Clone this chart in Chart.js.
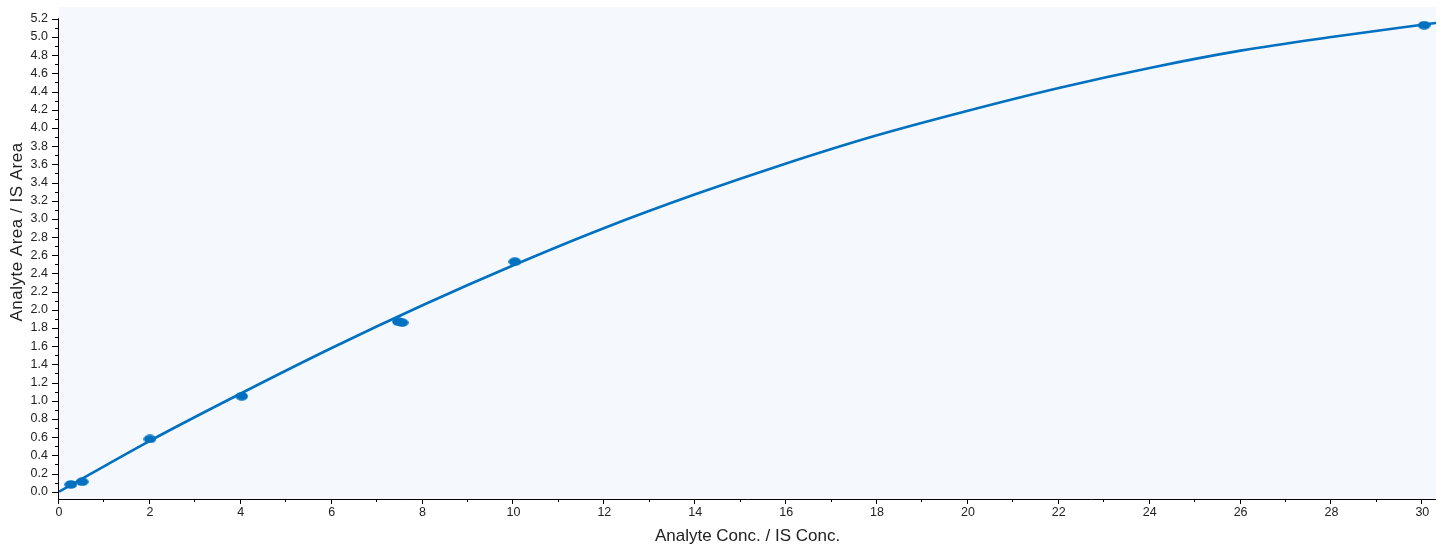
<!DOCTYPE html>
<html>
<head>
<meta charset="utf-8">
<script src="https://cdn.jsdelivr.net/npm/chart.js@4.4.1/dist/chart.umd.min.js"></script>
<style>
  html, body { margin: 0; padding: 0; background: #ffffff; }
  #wrap { width: 1443px; height: 547px; position: relative; }
</style>
</head>
<body>
<div id="wrap"><canvas id="c" width="1443" height="547"></canvas></div>
<script>
// Measured calibration points
const pointX = [0.26, 0.51, 2.0, 4.02, 7.47, 7.55, 10.03, 30.04];
const pointY = [0.08, 0.11, 0.58, 1.05, 1.87, 1.86, 2.53, 5.13];

// Fitted curve
const curveX = [0, 2, 4, 6, 8, 10, 12, 14, 16, 18, 20, 22, 24, 26, 28, 30, 30.3];
const curveY = [0.00, 0.56, 1.08, 1.58, 2.05, 2.49, 2.90, 3.27, 3.61, 3.92, 4.19, 4.44, 4.66, 4.85, 5.00, 5.135, 5.155];

// Tick labels
const xTicks = [0, 2, 4, 6, 8, 10, 12, 14, 16, 18, 20, 22, 24, 26, 28, 30];
const yTicks = [0.0, 0.2, 0.4, 0.6, 0.8, 1.0, 1.2, 1.4, 1.6, 1.8, 2.0, 2.2, 2.4, 2.6, 2.8, 3.0,
                3.2, 3.4, 3.6, 3.8, 4.0, 4.2, 4.4, 4.6, 4.8, 5.0, 5.2];
const xMinor = [1, 3, 5, 7, 9, 11, 13, 15, 17, 19, 21, 23, 25, 27, 29];
const yMinor = [0.1, 0.3, 0.5, 0.7, 0.9, 1.1, 1.3, 1.5, 1.7, 1.9, 2.1, 2.3, 2.5, 2.7, 2.9,
                3.1, 3.3, 3.5, 3.7, 3.9, 4.1, 4.3, 4.5, 4.7, 4.9, 5.1];

const xTitle = 'Analyte Conc. / IS Conc.';
const yTitle = 'Analyte Area / IS Area';

const BLUE = '#0070C0';
const FONT = '"Liberation Sans", Arial, Helvetica, sans-serif';

// ellipse point style
const dot = document.createElement('canvas');
dot.width = 13; dot.height = 9;
(function(){
  const g = dot.getContext('2d');
  g.fillStyle = BLUE;
  g.beginPath();
  g.ellipse(6.5, 4.5, 6.3, 4.3, 0, 0, Math.PI * 2);
  g.fill();
})();

const axesPlugin = {
  id: 'axesPlugin',
  beforeDatasetsDraw(chart) {
    const { ctx, chartArea: a } = chart;
    ctx.save();
    ctx.fillStyle = '#F5F9FD';
    ctx.fillRect(a.left, a.top, a.right - a.left, a.bottom - a.top);
    ctx.restore();
  },
  afterDraw(chart) {
    const { ctx, chartArea: a, scales: { x, y } } = chart;
    ctx.save();
    ctx.strokeStyle = '#000';
    ctx.lineWidth = 1;
    ctx.beginPath();
    const yTop = y.getPixelForValue(yTicks[yTicks.length - 1]);
    ctx.moveTo(a.left - 0.5, a.bottom + 0.5);
    ctx.lineTo(a.left - 0.5, yTop - 0.5);
    ctx.moveTo(a.left - 0.5, a.bottom + 0.5);
    ctx.lineTo(a.right, a.bottom + 0.5);
    yTicks.forEach(v => {
      const p = Math.round(y.getPixelForValue(v)) + 0.5;
      ctx.moveTo(a.left - 7, p); ctx.lineTo(a.left, p);
    });
    yMinor.forEach(v => {
      const p = Math.round(y.getPixelForValue(v)) + 0.5;
      ctx.moveTo(a.left - 4, p); ctx.lineTo(a.left, p);
    });
    xTicks.forEach(v => {
      const p = Math.round(x.getPixelForValue(v)) - 0.5;
      ctx.moveTo(p, a.bottom); ctx.lineTo(p, a.bottom + 5);
    });
    xMinor.forEach(v => {
      const p = Math.round(x.getPixelForValue(v)) - 0.5;
      ctx.moveTo(p, a.bottom); ctx.lineTo(p, a.bottom + 3);
    });
    ctx.stroke();

    // y axis title (placed like the reference, slightly above the axis middle)
    ctx.translate(17, 232);
    ctx.rotate(-Math.PI / 2);
    ctx.fillStyle = '#222';
    ctx.font = '17px ' + FONT;
    try { ctx.letterSpacing = '0.5px'; } catch (e) {}
    ctx.textAlign = 'center';
    ctx.textBaseline = 'middle';
    ctx.fillText(yTitle, 0, 0);
    ctx.restore();
  }
};

new Chart(document.getElementById('c'), {
  type: 'scatter',
  data: {
    datasets: [
      {
        label: 'Points',
        data: pointX.map((v, i) => ({ x: v, y: pointY[i] })),
        pointStyle: dot,
        pointRadius: 6,
        showLine: false,
        order: 1
      },
      {
        label: 'Fit',
        data: curveX.map((v, i) => ({ x: v, y: curveY[i] })),
        showLine: true,
        borderColor: BLUE,
        borderWidth: 2.6,
        pointRadius: 0,
        cubicInterpolationMode: 'monotone',
        fill: false,
        order: 2
      }
    ]
  },
  plugins: [axesPlugin],
  options: {
    responsive: false,
    animation: false,
    devicePixelRatio: 1,
    layout: { padding: { left: 0, top: 4, right: 7, bottom: 0 } },
    plugins: { legend: { display: false }, tooltip: { enabled: false } },
    scales: {
      x: {
        type: 'linear',
        min: 0,
        max: 30.3,
        afterBuildTicks: s => { s.ticks = xTicks.map(v => ({ value: v })); },
        afterFit: s => { s.height = 48; s.paddingLeft = 0; s.paddingRight = 0; },
        grid: { display: false, drawTicks: false },
        border: { display: false },
        ticks: {
          padding: 6,
          color: '#222',
          font: { family: FONT, size: 12.5 },
          maxRotation: 0,
          callback: v => String(v)
        },
        title: {
          display: true,
          text: xTitle,
          color: '#222',
          font: { family: FONT, size: 17 },
          padding: { top: 2, bottom: 0 }
        }
      },
      y: {
        type: 'linear',
        min: -0.08,
        max: 5.33,
        afterBuildTicks: s => { s.ticks = yTicks.map(v => ({ value: v })); },
        afterFit: s => { s.width = 59; s.paddingTop = 0; s.paddingBottom = 0; },
        grid: { display: false, drawTicks: false },
        border: { display: false },
        ticks: {
          padding: 11,
          color: '#222',
          font: { family: FONT, size: 12.5 },
          callback: v => Number(v).toFixed(1)
        },
        title: { display: false }
      }
    }
  }
});
</script>
</body>
</html>
